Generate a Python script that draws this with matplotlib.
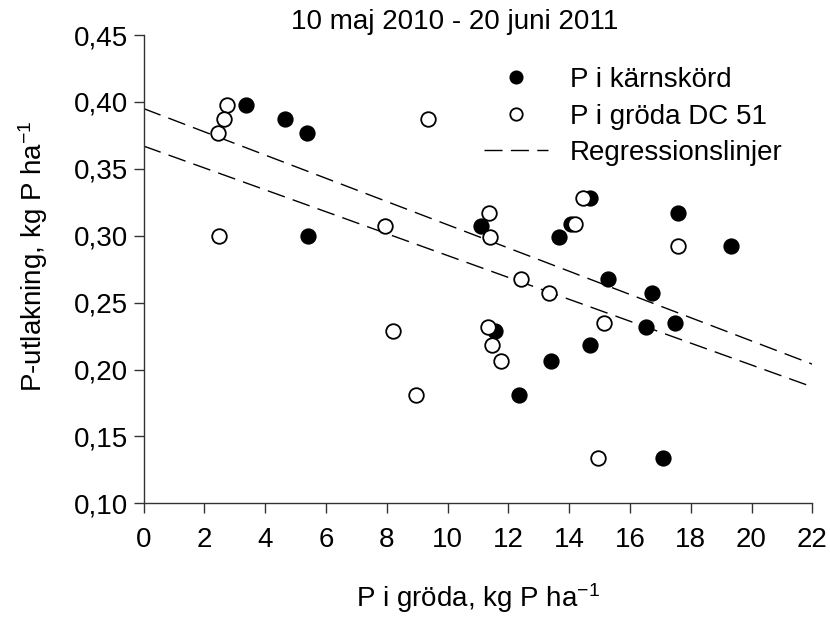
import matplotlib
matplotlib.use("Agg")
import matplotlib.pyplot as plt
import numpy as np

plt.rcParams['font.family'] = ['Liberation Sans', 'DejaVu Sans']
plt.rcParams['mathtext.default'] = 'regular'

# P i kärnskörd (filled)
karn_x = [3.37, 4.64, 5.39, 5.40, 11.09, 14.68, 17.58, 14.06, 13.68, 19.31,
          15.27, 16.72, 17.48, 16.52, 11.55, 14.70, 13.41, 12.36, 17.08]
karn_y = [0.398, 0.387, 0.377, 0.300, 0.307, 0.328, 0.317, 0.309, 0.299, 0.292,
          0.268, 0.257, 0.235, 0.232, 0.229, 0.218, 0.206, 0.181, 0.134]

# P i gröda DC 51 (open)
groda_x = [2.75, 2.64, 2.46, 9.36, 2.47, 7.93, 14.46, 11.35, 11.41, 14.20,
           17.57, 12.40, 13.32, 15.14, 11.34, 11.46, 11.76, 8.19, 8.97, 14.94]
groda_y = [0.398, 0.387, 0.377, 0.387, 0.300, 0.307, 0.328, 0.317, 0.299, 0.309,
           0.292, 0.268, 0.257, 0.235, 0.232, 0.218, 0.206, 0.229, 0.181, 0.134]

# regression lines, end points
reg_x = [0, 22]
reg_upper = [0.395, 0.204]
reg_lower = [0.367, 0.187]

xticks = [0, 2, 4, 6, 8, 10, 12, 14, 16, 18, 20, 22]
yticks = [0.10, 0.15, 0.20, 0.25, 0.30, 0.35, 0.40, 0.45]
ytick_labels = ["0,10", "0,15", "0,20", "0,25", "0,30", "0,35", "0,40", "0,45"]

fs = 20

fig = plt.figure(figsize=(8.3, 6.2), dpi=100)
ax = fig.add_axes([0.1731, 0.1882, 0.8056, 0.7553])

ln, = ax.plot(reg_x, reg_upper, color='black', lw=1, dashes=(13, 6))
ax.plot(reg_x, reg_lower, color='black', lw=1, dashes=(13, 6))
p1, = ax.plot(karn_x, karn_y, 'o', ls='none', ms=10.5, mfc='black', mec='black',
              mew=1.2, zorder=3)
p2, = ax.plot(groda_x, groda_y, 'o', ls='none', ms=10.5, mfc='white', mec='black',
              mew=1.3, zorder=4)

ax.set_xlim(0, 22)
ax.set_ylim(0.10, 0.45)
ax.set_xticks(xticks)
ax.set_yticks(yticks)
ax.set_yticklabels(ytick_labels)
ax.tick_params(labelsize=fs, width=1, length=7, direction='out', color='#333333')
ax.tick_params(axis='x', pad=10)
ax.tick_params(axis='y', pad=4)
for s in ['top', 'right']:
    ax.spines[s].set_visible(False)
for s in ['left', 'bottom']:
    ax.spines[s].set_linewidth(1)
    ax.spines[s].set_color('#333333')

leg = fig.legend([p1, p2, ln], ['P i kärnskörd', 'P i gröda DC 51', 'Regressionslinjer'],
                 loc='upper left', bbox_to_anchor=(484 / 830, 1 - 67 / 620),
                 frameon=False, fontsize=fs, markerscale=0.85, handlelength=2.3,
                 handletextpad=0.8, labelspacing=0.38, borderpad=0, borderaxespad=0)

fig.text(455 / 830, 1 - 22 / 620, '10 maj 2010 - 20 juni 2011', fontsize=fs,
         ha='center', va='center')
fig.text(478 / 830, 1 - 598 / 620, 'P i gröda, kg P ha$^{-1}$', fontsize=fs,
         ha='center', va='center')
fig.text(33 / 830, 1 - 256 / 620, 'P-utlakning, kg P ha$^{-1}$', fontsize=fs,
         ha='center', va='center', rotation=90)

fig.savefig('out.png', dpi=100)
